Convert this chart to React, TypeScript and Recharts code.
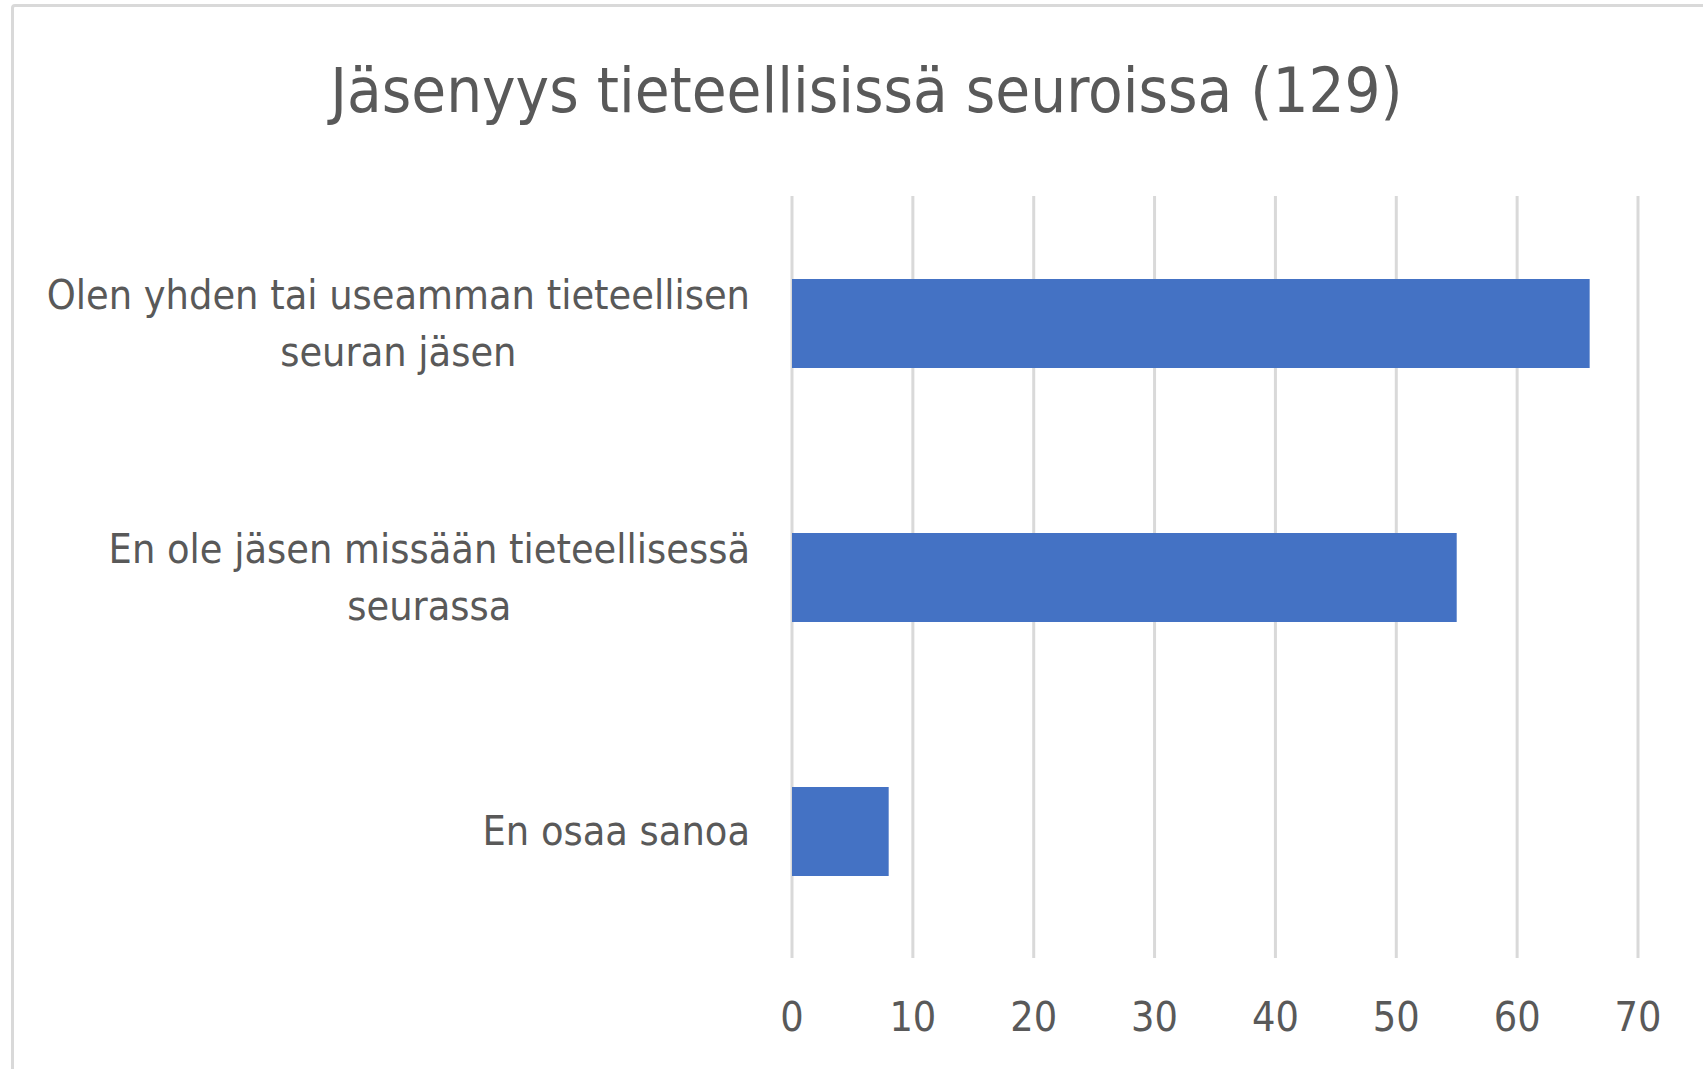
import React from "react";
import { BarChart, Bar, XAxis, YAxis, CartesianGrid } from "recharts";

const categories = [
  "Olen yhden tai useamman tieteellisen\nseuran jäsen",
  "En ole jäsen missään tieteellisessä\nseurassa",
  "En osaa sanoa",
];
const values = [66, 55, 8];
const xTicks = [0, 10, 20, 30, 40, 50, 60, 70];
const title = "Jäsenyys tieteellisissä seuroissa (129)";

const data = categories.map((c, i) => ({ name: c, value: values[i] }));

const FONT = "'Liberation Sans Narrow', 'DejaVu Sans Condensed', 'Noto Sans', sans-serif";
const LABEL_SIZE = 41;
const TEXT_COLOR = "#595959";

let canvasCtx: CanvasRenderingContext2D | null = null;
function measure(text: string, size: number): number {
  if (typeof document === "undefined") return text.length * size * 0.45;
  if (!canvasCtx) {
    const c = document.createElement("canvas");
    canvasCtx = c.getContext("2d");
  }
  if (!canvasCtx) return text.length * size * 0.45;
  canvasCtx.font = `${size}px ${FONT}`;
  return canvasCtx.measureText(text).width;
}

const CategoryTick = (props: any) => {
  const { x, y, payload } = props;
  const lines: string[] = String(payload.value).split("\n");
  const maxW = Math.max(...lines.map((l) => measure(l, LABEL_SIZE)));
  const right = x - 34;
  const cx = right - maxW / 2;
  const lineH = 57;
  const startY = y - ((lines.length - 1) * lineH) / 2;
  return (
    <text
      x={cx}
      y={startY}
      textAnchor="middle"
      fill={TEXT_COLOR}
      fontFamily={FONT}
      fontSize={LABEL_SIZE}
      dominantBaseline="central"
    >
      {lines.map((l, i) => (
        <tspan key={i} x={cx} y={startY + i * lineH} dominantBaseline="central">
          {l}
        </tspan>
      ))}
    </text>
  );
};

export default function App() {
  return (
    <div
      style={{
        position: "absolute",
        left: 0,
        top: 0,
        width: 1703,
        height: 1069,
        overflow: "hidden",
        background: "#ffffff",
      }}
    >
      <div
        style={{
          position: "absolute",
          left: 11,
          top: 4,
          width: 1760,
          height: 1120,
          border: "3px solid #d9d9d9",
          borderRadius: 4,
          boxSizing: "border-box",
        }}
      />
      <div
        style={{
          position: "absolute",
          left: 0,
          top: 56,
          width: 1733,
          textAlign: "center",
          fontFamily: FONT,
          fontSize: 63,
          color: TEXT_COLOR,
          lineHeight: "70px",
          whiteSpace: "nowrap",
        }}
      >
        {title}
      </div>
      <div style={{ position: "absolute", left: 0, top: 0 }}>
        <BarChart
          width={1703}
          height={1069}
          layout="vertical"
          data={data}
          margin={{ top: 196, right: 65, left: 0, bottom: 51 }}
          barSize={89}
        >
          <CartesianGrid horizontal={false} stroke="#d9d9d9" strokeWidth={3} />
          <XAxis
            type="number"
            domain={[0, 70]}
            ticks={xTicks}
            axisLine={false}
            tickLine={false}
            height={60}
            tickMargin={38}
            tick={{ fill: TEXT_COLOR, fontSize: LABEL_SIZE, fontFamily: FONT }}
          />
          <YAxis
            type="category"
            dataKey="name"
            width={792}
            axisLine={false}
            tickLine={false}
            tick={<CategoryTick />}
          />
          <Bar dataKey="value" fill="#4472c4" isAnimationActive={false} />
        </BarChart>
      </div>
    </div>
  );
}
